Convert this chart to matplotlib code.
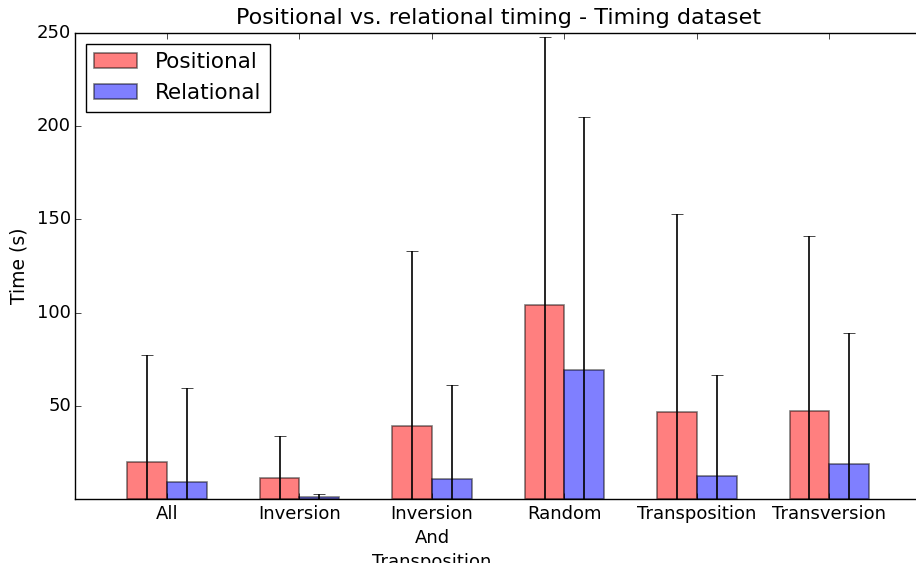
import numpy as np
import matplotlib
matplotlib.use('Agg')
import matplotlib.pyplot as plt

plt.style.use('classic')

# mean solve time and spread per puzzle type
categories = ['All', 'Inversion', 'Inversion\nAnd\nTransposition', 'Random', 'Transposition', 'Transversion']
positional_mean = [20, 11.3, 39.2, 104, 46.7, 47.2]
positional_std = [57, 22.5, 94, 144, 106, 94]
relational_mean = [9.1, 1.2, 10.7, 69.2, 12.3, 18.8]
relational_std = [50.4, 1.3, 50.5, 136, 54, 70]

width = 0.3
x = np.arange(len(categories))

fig = plt.figure(figsize=(9.16, 5.63), dpi=100, facecolor='white')
ax = fig.add_axes([75 / 916, 1 - 499 / 563, (922 - 75) / 916, (499 - 33) / 563])

ax.bar(x - width, positional_mean, width, color='r', alpha=0.5, edgecolor='k',
       linewidth=1.2, align='edge', label='Positional')
ax.bar(x, relational_mean, width, color='b', alpha=0.5, edgecolor='k',
       linewidth=1.2, align='edge', label='Relational')
ax.errorbar(x - width / 2, positional_mean, yerr=positional_std, fmt='none',
            ecolor='k', elinewidth=1.2, capsize=4)
ax.errorbar(x + width / 2, relational_mean, yerr=relational_std, fmt='none',
            ecolor='k', elinewidth=1.2, capsize=4)

ax.set_xlim(-0.695, 5.7)
ax.set_ylim(0, 250)
ax.set_yticks([50, 100, 150, 200, 250])
ax.set_xticks(x)
ax.set_xticklabels(categories, fontsize=13, linespacing=1.45)
ax.tick_params(axis='y', labelsize=13, pad=3)
ax.set_ylabel('Time (s)', fontsize=13.5, labelpad=6)
ax.set_title('Positional vs. relational timing - Timing dataset', fontsize=16, y=1.005)
ax.legend(loc='upper left', fontsize=15.5, fancybox=False)

fig.savefig('out.png', dpi=100, facecolor='white')
